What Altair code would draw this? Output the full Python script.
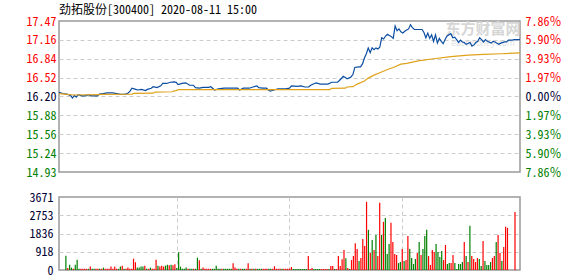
import json
import altair as alt
import pandas as pd

title_text = "劲拓股份[300400] 2020-08-11 15:00"
prev_close = 16.20
limit_pct = 0.0786

time_labels = ["09:30", "10:30", "11:30/13:00", "14:00", "15:00"]
price_tick_labels = ["14.93", "15.24", "15.56", "15.88", "16.20", "16.52", "16.84", "17.16", "17.47"]
pct_tick_labels = ["7.86", "5.90", "3.93", "1.97", "0.00", "1.97", "3.93", "5.90", "7.86"]
vol_tick_labels = ["0", "918", "1836", "2753", "3671"]
vol_max = 3671

price_minutes = [0, 2, 4, 6, 7, 8, 9, 10, 12, 14, 15, 17, 20, 21, 23, 25, 28, 30, 32, 34, 35, 36, 37, 38, 40,
                 41, 43, 45, 46, 48, 49, 51, 53, 54, 56, 58, 60, 61, 62, 64, 66, 68, 70, 71, 73, 75, 78, 79,
                 81, 83, 86, 90, 93, 94, 96, 99, 101, 103, 104, 106, 108, 109, 110, 112, 114, 118, 120, 121,
                 124, 126, 128, 130, 131, 133, 134, 136, 140, 142, 145, 146, 148, 149, 150, 152, 153, 154,
                 156, 157, 158, 159, 160, 161, 162, 163, 164, 165, 166, 167, 168, 169, 170, 171, 172, 173,
                 174, 175, 176, 177, 178, 179, 180, 181, 182, 183, 184, 185, 187, 189, 190, 191, 192, 193,
                 194, 195, 196, 197, 198, 199, 200, 201, 202, 204, 205, 206, 207, 208, 209, 210, 211, 212,
                 214, 215, 216, 217, 218, 219, 220, 221, 222, 223, 225, 226, 227, 228, 229, 230, 232, 233,
                 234, 236, 237, 240]
price_values = [16.27, 16.25, 16.24, 16.22, 16.175, 16.22, 16.19, 16.23, 16.21, 16.21, 16.23, 16.21, 16.21,
                16.24, 16.25, 16.26, 16.26, 16.25, 16.235, 16.235, 16.245, 16.26, 16.29, 16.34, 16.32,
                16.31, 16.32, 16.30, 16.32, 16.34, 16.365, 16.35, 16.38, 16.42, 16.42, 16.44, 16.445,
                16.44, 16.40, 16.42, 16.43, 16.39, 16.39, 16.35, 16.34, 16.355, 16.355, 16.365, 16.31,
                16.33, 16.34, 16.34, 16.34, 16.31, 16.34, 16.34, 16.36, 16.38, 16.35, 16.34, 16.34, 16.31,
                16.29, 16.31, 16.33, 16.33, 16.34, 16.38, 16.37, 16.38, 16.36, 16.36, 16.39, 16.42, 16.43,
                16.41, 16.41, 16.44, 16.44, 16.47, 16.54, 16.52, 16.50, 16.53, 16.57, 16.69, 16.70, 16.70,
                16.75, 16.85, 16.92, 17.02, 16.94, 17.02, 16.99, 17.02, 17.00, 17.03, 17.19, 17.17, 17.22,
                17.25, 17.23, 17.21, 17.18, 17.39, 17.31, 17.34, 17.29, 17.27, 17.30, 17.32, 17.34, 17.41,
                17.36, 17.33, 17.33, 17.33, 17.28, 17.19, 17.27, 17.18, 17.24, 17.13, 17.24, 17.10, 17.18,
                17.13, 17.09, 17.16, 17.22, 17.26, 17.19, 17.20, 17.16, 17.11, 17.15, 17.12, 17.11, 17.08,
                17.11, 17.05, 17.07, 17.11, 17.13, 17.19, 17.16, 17.12, 17.16, 17.13, 17.10, 17.13, 17.12,
                17.10, 17.08, 17.10, 17.12, 17.12, 17.15, 17.15, 17.16, 17.16]

avg_minutes = [0, 3, 8, 21, 22, 38, 39, 49, 50, 59, 60, 61, 62, 120, 141, 142, 149, 150, 153, 155, 159,
               161, 164, 167, 171, 174, 178, 181, 187, 195, 204, 213, 221, 230, 240]
avg_values = [16.25, 16.24, 16.225, 16.23, 16.237, 16.24, 16.254, 16.256, 16.275, 16.28, 16.295, 16.30,
              16.315, 16.317, 16.317, 16.338, 16.34, 16.36, 16.365, 16.405, 16.46, 16.51, 16.56, 16.60,
              16.655, 16.69, 16.745, 16.76, 16.80, 16.837, 16.871, 16.899, 16.91, 16.921, 16.935]

# volume per minute, minutes 1..240
vol_values = [
    720, 100, 270, 120, 60, 270, 520, 60, 60, 60, 60, 60, 60, 170, 60, 60, 60, 60, 60, 60,
    120, 60, 60, 60, 170, 60, 170, 60, 60, 170, 220, 60, 60, 120, 60, 60, 570, 390, 120, 120,
    170, 170, 220, 60, 60, 120, 60, 60, 520, 220, 170, 220, 170, 220, 270, 240, 270, 240, 290, 100,
    890, 170, 60, 60, 120, 60, 60, 60, 60, 60, 620, 490, 60, 120, 60, 60, 60, 60, 60, 60,
    220, 60, 60, 60, 60, 60, 60, 60, 60, 340, 130, 60, 60, 60, 60, 60, 60, 340, 60, 60,
    60, 60, 60, 60, 60, 60, 60, 60, 60, 60, 60, 190, 60, 60, 60, 60, 60, 60, 60, 70,
    150, 50, 50, 50, 50, 50, 50, 50, 50, 700, 50, 100, 50, 50, 50, 50, 50, 50, 50, 50,
    50, 200, 200, 50, 50, 700, 200, 540, 1010, 590, 100, 50, 500, 700, 1340, 1060, 450, 600, 1560, 1210,
    3430, 2020, 860, 1510, 1010, 1760, 700, 3380, 1760, 2420, 2620, 810, 1310, 2370, 1410, 810, 760, 350, 400, 1060,
    450, 500, 1710, 1060, 600, 300, 550, 860, 1410, 760, 1060, 1710, 2020, 700, 250, 1010, 910, 1310, 910, 650,
    960, 500, 1260, 300, 350, 350, 760, 350, 50, 300, 300, 400, 1410, 700, 400, 2220, 700, 550, 400, 600,
    550, 200, 1460, 450, 250, 250, 400, 600, 700, 1410, 1760, 860, 450, 1160, 2170, 2120, 0, 0, 0, 2920,
]
vol_dirs = (
    "grggrgggrrrrgrggrrgr" "grrrrrrrggrgrrrrrrgg" "ggrgrgrrrgrrrggrgrrg" "gggggrggrggrgrrrrrgg"
    "gggrgggggrrrgrggrrgr" "grgggrrrggrrrrrgrrrr" "rggggggggrrrggggrrrr" "grrgrrrrrgrgrrrrgrrr"
    "rgrgrgrrgrgggrrrrggr" "grrggggrgrgggrrrrggg" "grrggrrgggggrgrgrrrr" "ggrggggrrgrrgrrrrrrr"
)

FONT = "Noto Sans Mono CJK SC, Noto Sans CJK SC, DejaVu Sans Mono"
RED = "#ff0000"
GREEN = "#008000"
DARK = "#000033"
GRID = "#cccccc"
FRAME = "#999999"

lo = prev_close * (1 - limit_pct)
hi = prev_close * (1 + limit_pct)
step = (hi - lo) / 8
price_ticks = [lo + i * step for i in range(9)]
vol_ticks = [vol_max * i / 4 for i in range(5)]

price_df = pd.DataFrame({"t": price_minutes, "p": price_values})
avg_df = pd.DataFrame({"t": avg_minutes, "a": avg_values})
vol_df = pd.DataFrame({"t": list(range(1, len(vol_values) + 1)), "v": vol_values, "d": list(vol_dirs)})

xscale = alt.Scale(domain=[0, 240], nice=False, zero=False)
pscale = alt.Scale(domain=[lo, hi], nice=False, zero=False)
vscale = alt.Scale(domain=[0, vol_max], nice=False)

label_color_cond = {
    "condition": [
        {"test": f"datum.value > {prev_close + 0.01}", "value": RED},
        {"test": f"datum.value < {prev_close - 0.01}", "value": GREEN},
    ],
    "value": DARK,
}
edge_y = {"condition": {"test": f"abs(datum.value - {prev_close}) > {hi - prev_close - 0.01}", "value": 0}, "value": 1}

x_axis_top = alt.Axis(
    values=[0, 60, 120, 180, 240],
    labelExpr=f"{json.dumps(time_labels)}[round(datum.value / 60)]",
    labelFlush=True, labelOverlap=False, ticks=False, tickSize=0, domain=False,
    grid=True, gridDash=[4, 3], gridColor=GRID,
    gridOpacity={"condition": {"test": "datum.value <= 0 || datum.value >= 240", "value": 0}, "value": 1},
    labelPadding=4, labelFont=FONT, labelFontSize=12, labelColor="#000000", title=None,
)
y_axis_left = alt.Axis(
    values=price_ticks,
    labelExpr=f"{json.dumps(price_tick_labels)}[round((datum.value - {lo}) / {step})]",
    labelOverlap=False, ticks=False, tickSize=0, domain=False,
    grid=True, gridDash=[4, 3], gridColor=GRID, gridOpacity=edge_y,
    labelPadding=3, labelFont=FONT, labelFontSize=12, labelColor=label_color_cond, title=None,
)
y_axis_right = alt.Axis(
    orient="right", values=price_ticks,
    labelExpr=f"{json.dumps(pct_tick_labels)}[round((datum.value - {lo}) / {step})] + '％'",
    labelOverlap=False, ticks=False, tickSize=0, domain=False, grid=False,
    labelPadding=5, labelFont=FONT, labelFontSize=12, labelColor=label_color_cond, title=None,
)

price_line = alt.Chart(price_df).mark_line(color="#0a4da2", strokeWidth=1.2).encode(
    x=alt.X("t:Q", scale=xscale, axis=x_axis_top),
    y=alt.Y("p:Q", scale=pscale, axis=y_axis_left),
)
avg_line = alt.Chart(avg_df).mark_line(color="#e0a21a", strokeWidth=1.2).encode(
    x=alt.X("t:Q", scale=xscale, axis=None),
    y=alt.Y("a:Q", scale=pscale, axis=y_axis_right),
)
wm_df = pd.DataFrame({"w": ["东方财富网"], "e": ["eastmoney.com"]})
watermark = alt.Chart(wm_df).mark_text(
    font="Noto Sans CJK SC", fontSize=15, fontWeight="bold", color="#d6d6d6", align="center", baseline="middle"
).encode(text="w:N", x=alt.value(424), y=alt.value(8))
watermark2 = alt.Chart(wm_df).mark_text(
    font="DejaVu Sans", fontSize=8, fontStyle="italic", color="#e0e0e0", align="center", baseline="middle"
).encode(text="e:N", x=alt.value(424), y=alt.value(23))

top = alt.layer(watermark, watermark2, price_line, avg_line).resolve_scale(y="independent").properties(
    width=461, height=151,
    title=alt.TitleParams(title_text, anchor="start", frame="group", font=FONT, fontSize=12,
                          fontWeight="normal", color="#000000", offset=-2),
)

vol = alt.Chart(vol_df).mark_bar(size=1.2).encode(
    x=alt.X("t:Q", scale=xscale, axis=alt.Axis(
        values=[60, 120, 180], labels=False, ticks=False, tickSize=0, domain=False,
        grid=True, gridDash=[4, 3], gridColor=GRID, title=None)),
    y=alt.Y("v:Q", scale=vscale, axis=alt.Axis(
        values=vol_ticks,
        labelExpr=f"{json.dumps(vol_tick_labels)}[round(datum.value / {vol_max / 4})]",
        labelOverlap=False, ticks=False, tickSize=0, domain=False,
        grid=True, gridDash=[4, 3], gridColor=GRID,
        gridOpacity={"condition": {"test": f"datum.value <= 0 || datum.value >= {vol_max}", "value": 0}, "value": 1},
        labelPadding=6, labelFont=FONT, labelFontSize=12, labelColor=DARK, title=None)),
    color=alt.Color("d:N", scale=alt.Scale(domain=["r", "g"], range=[RED, GREEN]), legend=None),
).properties(width=461, height=73)

chart = alt.vconcat(top, vol, spacing=25, bounds="flush").properties(
    padding={"left": 25, "top": 3, "right": 5, "bottom": 4},
    background="white",
).configure_view(stroke=FRAME, strokeWidth=1.5)

chart.save("out.html", embed_options={"renderer": "svg", "actions": False})
